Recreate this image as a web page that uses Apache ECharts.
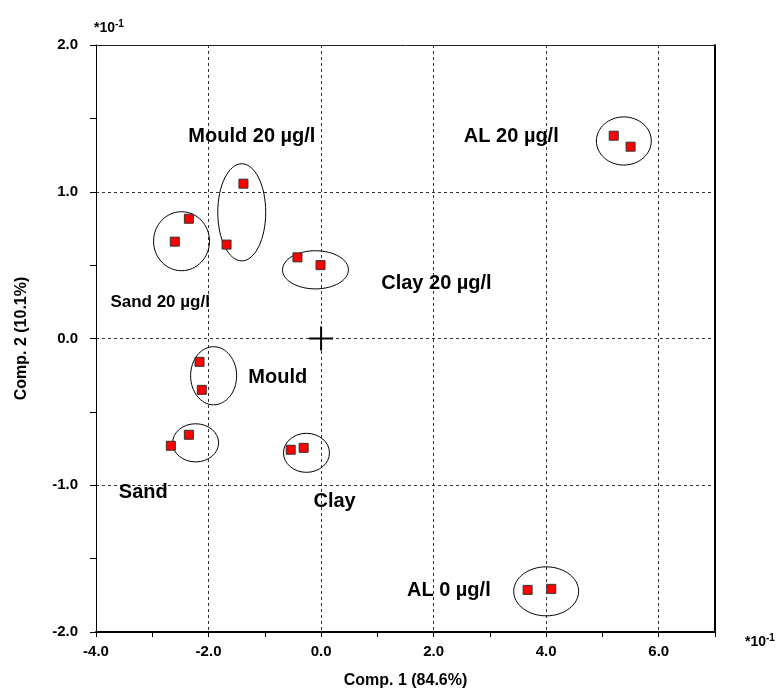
<!DOCTYPE html>
<html>
<head>
<meta charset="utf-8">
<title>PCA scores</title>
<script src="https://cdn.jsdelivr.net/npm/echarts@6/dist/echarts.min.js"></script>
<style>
  html, body { margin: 0; padding: 0; background: #fff; }
  #main { width: 778px; height: 688px; }
</style>
</head>
<body>
<div id="main"></div>
<script>
// scores (x10^-1), two replicates per group
const pointX = [5.20, 5.50, -1.38, -1.68, -2.35, -2.60, -0.42, -0.01, -2.16, -2.12, -2.35, -2.67, -0.54, -0.31, 3.67, 4.09]
const pointY = [1.382, 1.307, 1.055, 0.64, 0.816, 0.66, 0.553, 0.50, -0.159, -0.35, -0.656, -0.731, -0.758, -0.745, -1.713, -1.706]

// group ellipses: centre and half axes in data units
const ellipseX = [5.38, -1.41, -2.48, -0.10, -1.91, -2.23, -0.26, 4.00]
const ellipseY = [1.346, 0.86, 0.663, 0.468, -0.254, -0.711, -0.779, -1.723]
const ellipseRx = [0.488, 0.426, 0.497, 0.586, 0.409, 0.409, 0.409, 0.577]
const ellipseRy = [0.164, 0.331, 0.201, 0.130, 0.198, 0.130, 0.133, 0.167]

// group labels
const labelNames = ['AL 20 µg/l', 'Mould 20 µg/l', 'Sand 20 µg/l', 'Clay 20 µg/l', 'Mould', 'Sand', 'Clay', 'AL 0 µg/l']
const labelX = [3.38, -1.23, -2.86, 2.05, -0.77, -3.16, 0.24, 2.27]
const labelY = [1.375, 1.375, 0.25, 0.373, -0.268, -1.052, -1.113, -1.72]

const origin = [0, 0]

const font = 'Liberation Sans, Arial, sans-serif'

const chart = echarts.init(document.getElementById('main'))

const fmt = v => v.toFixed(1)

const supText = {
  text: '*10{sup|-1}',
  font: 'bold 14px ' + font,
  fill: '#000',
  rich: { sup: { font: 'bold 10px ' + font, fill: '#000', verticalAlign: 'top', padding: [0, 0, 8, 0] } }
}

const option = {
  animation: false,
  backgroundColor: '#fff',
  grid: { left: 96, right: 63, top: 45, bottom: 56, outerBoundsMode: 'none' },
  xAxis: [
    {
      type: 'value',
      min: -4,
      max: 7,
      interval: 1,
      name: 'Comp. 1 (84.6%)',
      nameLocation: 'middle',
      nameGap: 41,
      nameTextStyle: { fontFamily: font, fontWeight: 'bold', fontSize: 16, color: '#000' },
      axisLine: { onZero: false, lineStyle: { color: '#000', width: 2 } },
      axisTick: { show: true, length: 5, lineStyle: { color: '#000' } },
      axisLabel: {
        margin: 12,
        fontFamily: font,
        fontWeight: 'bold',
        fontSize: 15,
        color: '#000',
        formatter: v => (Math.abs(v % 2) < 1e-6 && v < 7 ? fmt(v) : '')
      },
      splitLine: { show: false }
    },
    {
      // grid lines every 2 + top border
      type: 'value',
      position: 'top',
      min: -4,
      max: 7,
      interval: 2,
      axisLine: { onZero: false, lineStyle: { color: '#222', width: 1 } },
      axisTick: { show: false },
      axisLabel: { show: false },
      splitLine: { show: true, lineStyle: { color: '#333', type: [3, 3], width: 1 } }
    }
  ],
  yAxis: [
    {
      type: 'value',
      min: -2,
      max: 2,
      interval: 0.5,
      name: 'Comp. 2 (10.1%)',
      nameLocation: 'middle',
      nameGap: 66,
      nameTextStyle: { fontFamily: font, fontWeight: 'bold', fontSize: 16, color: '#000' },
      axisLine: { onZero: false, lineStyle: { color: '#000', width: 1 } },
      axisTick: { show: true, length: 6, lineStyle: { color: '#000' } },
      axisLabel: {
        margin: 18,
        fontFamily: font,
        fontWeight: 'bold',
        fontSize: 15,
        color: '#000',
        formatter: v => (Math.abs(v % 1) < 1e-6 ? fmt(v) : '')
      },
      splitLine: { show: false }
    },
    {
      type: 'value',
      position: 'right',
      min: -2,
      max: 2,
      interval: 1,
      axisLine: { onZero: false, lineStyle: { color: '#000', width: 2 } },
      axisTick: { show: false },
      axisLabel: { show: false },
      splitLine: { show: true, lineStyle: { color: '#333', type: [3, 3], width: 1 } }
    }
  ],
  graphic: [
    { type: 'text', left: 94, top: 19, style: supText },
    { type: 'text', left: 745, top: 633, style: supText }
  ],
  series: [
    {
      // ellipses round each group
      type: 'custom',
      silent: true,
      data: ellipseX.map((x, i) => [x, ellipseY[i], ellipseRx[i], ellipseRy[i]]),
      encode: { x: 0, y: 1 },
      renderItem: (params, api) => {
        const c = api.coord([api.value(0), api.value(1)])
        const s = api.size([api.value(2), api.value(3)])
        return {
          type: 'ellipse',
          shape: { cx: c[0], cy: c[1], rx: s[0], ry: s[1] },
          style: { fill: 'none', stroke: '#000', lineWidth: 1 }
        }
      },
      z: 2
    },
    {
      // cross at the origin
      type: 'custom',
      silent: true,
      data: [origin],
      renderItem: (params, api) => {
        const c = api.coord([api.value(0), api.value(1)])
        return {
          type: 'group',
          children: [
            { type: 'line', shape: { x1: c[0] - 12, y1: c[1], x2: c[0] + 12, y2: c[1] }, style: { stroke: '#000', lineWidth: 2 } },
            { type: 'line', shape: { x1: c[0], y1: c[1] - 12, x2: c[0], y2: c[1] + 12 }, style: { stroke: '#000', lineWidth: 2 } }
          ]
        }
      },
      z: 3
    },
    {
      type: 'scatter',
      symbol: 'rect',
      symbolSize: 9,
      data: pointX.map((x, i) => [x, pointY[i]]),
      itemStyle: { color: '#ff0000', borderColor: '#333', borderWidth: 1, opacity: 1 },
      z: 4
    },
    {
      // text labels
      type: 'scatter',
      symbolSize: 0,
      silent: true,
      itemStyle: { opacity: 1 },
      data: labelNames.map((n, i) => ({
        name: n,
        value: [labelX[i], labelY[i]],
        label: n === 'Sand 20 µg/l' ? { fontSize: 17 } : {}
      })),
      label: {
        show: true,
        position: 'inside',
        formatter: '{b}',
        fontFamily: font,
        fontWeight: 'bold',
        fontSize: 20,
        color: '#000',
        textBorderWidth: 0
      },
      z: 5
    }
  ]
}

chart.setOption(option)
</script>
</body>
</html>
